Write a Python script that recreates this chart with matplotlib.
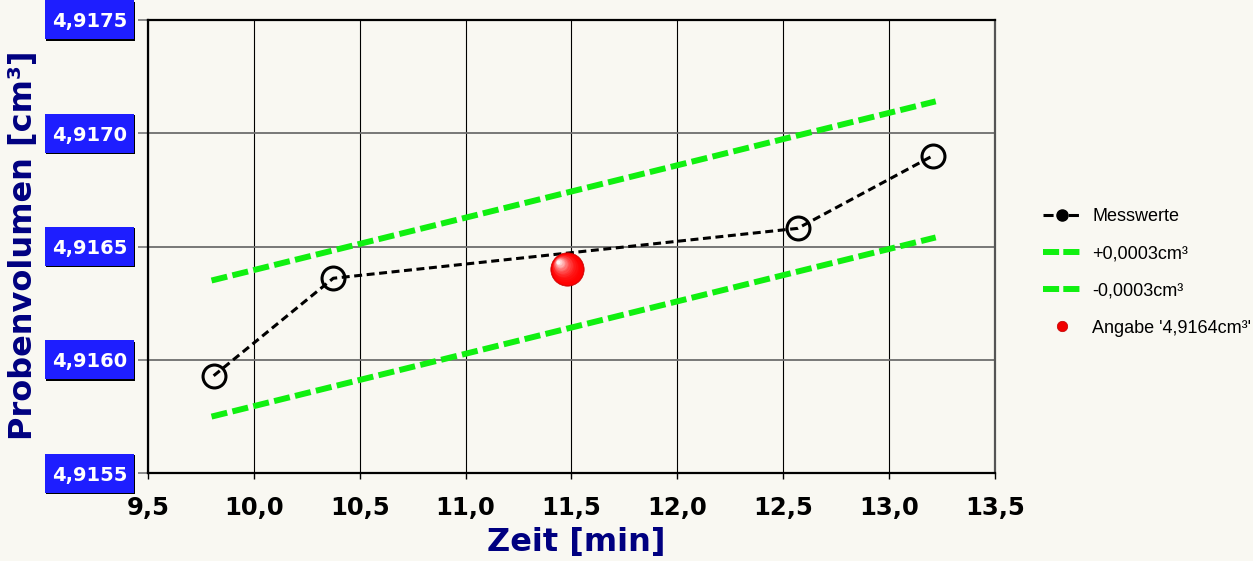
import matplotlib
matplotlib.use('Agg')
import matplotlib.pyplot as plt
from matplotlib.lines import Line2D
from matplotlib.patches import Rectangle
import matplotlib.patheffects as pe
import matplotlib.transforms as mtransforms

# ---- data ----
zeit = [9.81, 10.375, 12.568, 13.206]
volumen = [4.91593, 4.91636, 4.91658, 4.91690]
band_x = [9.80, 13.22]
band_upper = [4.91635, 4.91714]
band_lower = [4.91575, 4.91654]
angabe_x = [11.48]
angabe_y = [4.9164]
xticks = [9.5, 10.0, 10.5, 11.0, 11.5, 12.0, 12.5, 13.0, 13.5]
xtick_labels = ['9,5', '10,0', '10,5', '11,0', '11,5', '12,0', '12,5', '13,0', '13,5']
yticks = [4.9155, 4.9160, 4.9165, 4.9170, 4.9175]
ytick_labels = ['4,9155', '4,9160', '4,9165', '4,9170', '4,9175']
legend_labels = ['Messwerte', '+0,0003cm³', '-0,0003cm³', "Angabe '4,9164cm³'"]
xlabel = 'Zeit [min]'
ylabel = 'Probenvolumen [cm³]'

BG = '#f9f8f2'
GREEN = '#10f010'
BLUE = '#1e1eff'
NAVY = '#000080'

W, H = 1253, 561
fig = plt.figure(figsize=(W / 100, H / 100), dpi=100, facecolor=BG)
ax = fig.add_axes([148 / W, 1 - 473.3 / H, 847 / W, 453.6 / H])
ax.set_facecolor(BG)
ax.set_xlim(9.5, 13.5)
ax.set_ylim(4.9155, 4.9175)

ax.set_axisbelow(True)
ax.xaxis.grid(True, color='black', lw=0.8)
ax.yaxis.grid(True, color='#6e6e6e', lw=1.3)

for side in ['left', 'bottom', 'top']:
    ax.spines[side].set_color('black')
    ax.spines[side].set_linewidth(1.6)
ax.spines['right'].set_color('#555555')
ax.spines['right'].set_linewidth(1.6)

ax.set_xticks(xticks)
ax.set_xticklabels(xtick_labels, fontsize=17.5, fontweight='bold',
                   family='DejaVu Sans')
ax.set_yticks(yticks)
ax.tick_params(axis='x', length=4, width=1.0, color='black', pad=12)
ax.tick_params(axis='y', length=7, width=1.2, color='#777777', labelleft=False)

# y tick labels in blue boxes
ytr = ax.get_yaxis_transform()
box_h = 39 / 453.6 * 0.002
for y, lab in zip(yticks, ytick_labels):
    r = Rectangle((-103 / 847, y - box_h / 2), 89 / 847, box_h,
                  transform=ytr, clip_on=False, facecolor=BLUE,
                  edgecolor='none', zorder=5)
    r.set_path_effects([pe.SimplePatchShadow(offset=(1.0, -1.0),
                                             shadow_rgbFace='black', alpha=1),
                        pe.Normal()])
    ax.add_patch(r)
    ax.text(-58.5 / 847, y, lab, transform=ytr, ha='center',
            va='center_baseline', color='white', fontsize=14,
            fontweight='bold', family='DejaVu Sans', clip_on=False, zorder=6)

# tolerance band
ax.plot(band_x, band_upper, color=GREEN, lw=4.3, dashes=(2.7, 0.9),
        dash_capstyle='butt', zorder=3)
ax.plot(band_x, band_lower, color=GREEN, lw=4.3, dashes=(2.7, 0.9),
        dash_capstyle='butt', zorder=3)

# measured values
ax.plot(zeit, volumen, color='black', lw=2.2, dashes=(2.6, 1.5),
        dash_capstyle='butt', marker='o', ms=16.5, mfc='none', mec='black',
        mew=2.2, zorder=4)

# red sphere (shaded)
ax.plot(angabe_x, angabe_y, ls='none', marker='o', ms=24, mfc='#e80000',
        mec='#d00000', mew=0.5, zorder=6)
N = 14
hx, hy = -6.5, 5.5
for i in range(1, N + 1):
    f = i / N
    s = 24 * (1 - 0.88 * f)
    tr = mtransforms.offset_copy(ax.transData, fig=fig, x=hx * f, y=hy * f,
                                 units='points')
    t = f ** 2.2
    col = (1.0, t * 0.95, t * 0.95)
    ax.plot(angabe_x, angabe_y, ls='none', marker='o', ms=s, mfc=col,
            mec='none', transform=tr, zorder=6 + i * 0.01)

# axis labels
fig.text(576 / W, 1 - 543 / H, xlabel, ha='center', va='center',
         fontsize=23, fontweight='bold', color=NAVY, family='DejaVu Sans')
fig.text(24 / W, 1 - 245 / H, ylabel, ha='center', va='center', rotation=90,
         fontsize=23, fontweight='bold', color=NAVY, family='DejaVu Sans')

# legend
handles = [
    Line2D([], [], color='black', lw=2.2, dashes=(3.3, 5.0), marker='o',
           ms=8, mfc='black', mec='black'),
    Line2D([], [], color=GREEN, lw=4.3, dashes=(2.7, 0.7), dash_capstyle='butt'),
    Line2D([], [], color=GREEN, lw=4.3, dashes=(2.7, 0.7), dash_capstyle='butt'),
    Line2D([], [], ls='none', marker='o', ms=7.5, mfc='#f00000', mec='#c00000',
           mew=0.5),
]
fig.legend(handles, legend_labels, loc='upper left',
           bbox_to_anchor=(1043 / W, 1 - 208 / H), frameon=False,
           borderpad=0, borderaxespad=0, handlelength=2.05,
           handletextpad=0.67, labelspacing=1.12,
           prop={'family': 'Liberation Sans', 'size': 13})

fig.savefig('out.png', dpi=100, facecolor=BG)
